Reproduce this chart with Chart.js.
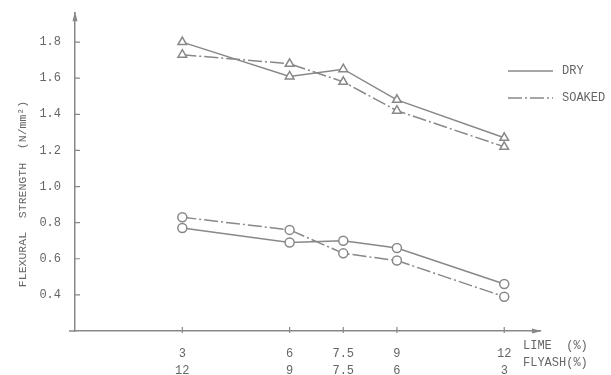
<!DOCTYPE html>
<html>
<head>
<meta charset="utf-8">
<script src="https://cdn.jsdelivr.net/npm/chart.js@4/dist/chart.umd.min.js"></script>
<style>
  html, body { margin: 0; padding: 0; background: #ffffff; }
  canvas { display: block; }
</style>
</head>
<body>
<canvas id="c" width="611" height="375"></canvas>
<script>
// Lime content (%) and the matching flyash content (%)
const limePct = [3, 6, 7.5, 9, 12];
const limeLabels = ['3', '6', '7.5', '9', '12'];
const flyashLabels = ['12', '9', '7.5', '6', '3'];

// Flexural strength (N/mm²), upper group (triangles)
const dryTriangles = [1.80, 1.61, 1.65, 1.48, 1.27];
const soakedTriangles = [1.73, 1.68, 1.58, 1.42, 1.22];

// Flexural strength (N/mm²), lower group (circles)
const dryCircles = [0.77, 0.69, 0.70, 0.66, 0.46];
const soakedCircles = [0.83, 0.76, 0.63, 0.59, 0.39];

// Y-axis tick values
const yTicks = [0.4, 0.6, 0.8, 1.0, 1.2, 1.4, 1.6, 1.8];

const INK = '#666666';
const LINE = '#888888';
const MONO = "'Liberation Mono', 'DejaVu Sans Mono', monospace";
const DASH_DOT = [14, 3, 2, 3];

const toPoints = (ys) => limePct.map((x, i) => ({ x: x, y: ys[i] }));

function series(label, ys, style, dashed) {
  return {
    label: label,
    data: toPoints(ys),
    borderColor: LINE,
    borderWidth: 1.5,
    borderDash: dashed ? DASH_DOT : [],
    pointStyle: style,
    pointRadius: style === 'triangle' ? 5 : 4.5,
    pointBorderWidth: 1.5,
    pointBorderColor: LINE,
    pointBackgroundColor: '#ffffff',
    tension: 0,
    fill: false
  };
}

// Axis arrows, inward tick marks, extra axis captions, y title and legend
const decorations = {
  id: 'decorations',
  afterDraw(chart) {
    const { ctx, chartArea: a, scales: { x, y } } = chart;
    ctx.save();
    ctx.strokeStyle = LINE;
    ctx.fillStyle = LINE;

    // short overhang of the x axis to the left of the y axis
    ctx.lineWidth = 1.5;
    ctx.beginPath();
    ctx.moveTo(a.left - 6, a.bottom);
    ctx.lineTo(a.left, a.bottom);
    ctx.stroke();

    // arrowheads
    ctx.beginPath();
    ctx.moveTo(a.left, a.top - 2);
    ctx.lineTo(a.left - 2.5, a.top + 8);
    ctx.lineTo(a.left + 2.5, a.top + 8);
    ctx.closePath();
    ctx.fill();
    ctx.beginPath();
    ctx.moveTo(a.right + 2, a.bottom);
    ctx.lineTo(a.right - 8, a.bottom - 2.5);
    ctx.lineTo(a.right - 8, a.bottom + 2.5);
    ctx.closePath();
    ctx.fill();

    // tick marks
    ctx.lineWidth = 1.2;
    ctx.beginPath();
    y.ticks.forEach(t => {
      const py = y.getPixelForValue(t.value);
      ctx.moveTo(a.left, py);
      ctx.lineTo(a.left + 5, py);
    });
    x.ticks.forEach(t => {
      const px = x.getPixelForValue(t.value);
      ctx.moveTo(px, a.bottom - 4);
      ctx.lineTo(px, a.bottom + 2);
    });
    ctx.stroke();

    // captions of the two x-label rows
    ctx.fillStyle = INK;
    ctx.font = '12px ' + MONO;
    ctx.textAlign = 'left';
    ctx.textBaseline = 'middle';
    ctx.fillText('LIME  (%)', 523, 346);
    ctx.fillText('FLYASH(%)', 523, 363);

    // y-axis title
    ctx.save();
    ctx.translate(23, 194);
    ctx.rotate(-Math.PI / 2);
    ctx.textAlign = 'center';
    ctx.font = '11.5px ' + MONO;
    ctx.fillText('FLEXURAL  STRENGTH  (N/mm²)', 0, 0);
    ctx.restore();

    // legend
    const entries = [
      { text: 'DRY', dash: [], yy: 71 },
      { text: 'SOAKED', dash: DASH_DOT, yy: 98 }
    ];
    entries.forEach(e => {
      ctx.strokeStyle = LINE;
      ctx.lineWidth = 1.5;
      ctx.setLineDash(e.dash);
      ctx.beginPath();
      ctx.moveTo(508, e.yy);
      ctx.lineTo(553, e.yy);
      ctx.stroke();
      ctx.setLineDash([]);
      ctx.fillStyle = INK;
      ctx.font = '12px ' + MONO;
      ctx.fillText(e.text, 562, e.yy);
    });
    ctx.restore();
  }
};

new Chart(document.getElementById('c'), {
  type: 'line',
  data: {
    datasets: [
      series('DRY', dryTriangles, 'triangle', false),
      series('SOAKED', soakedTriangles, 'triangle', true),
      series('DRY', dryCircles, 'circle', false),
      series('SOAKED', soakedCircles, 'circle', true)
    ]
  },
  options: {
    responsive: false,
    animation: false,
    events: [],
    layout: { padding: { top: 10, right: 71, left: 0, bottom: 0 } },
    plugins: {
      legend: { display: false },
      tooltip: { enabled: false }
    },
    scales: {
      x: {
        type: 'linear',
        min: 0,
        max: 13,
        afterBuildTicks: (s) => { s.ticks = limePct.map(v => ({ value: v })); },
        afterFit: (s) => { s.height = 44; },
        grid: { display: false },
        border: { display: true, color: LINE, width: 1.5 },
        ticks: {
          padding: 6.5,
          color: INK,
          font: { family: MONO, size: 12, lineHeight: 17 / 12 },
          maxRotation: 0,
          autoSkip: false,
          callback: (v, i) => [limeLabels[i], flyashLabels[i]]
        }
      },
      y: {
        type: 'linear',
        min: 0.2,
        max: 1.96,
        afterBuildTicks: (s) => { s.ticks = yTicks.map(v => ({ value: v })); },
        afterFit: (s) => { s.width = 75; },
        grid: { display: false },
        border: { display: true, color: LINE, width: 1.5 },
        ticks: {
          padding: 6,
          color: INK,
          font: { family: MONO, size: 12 },
          autoSkip: false,
          callback: (v) => Number(v).toFixed(1)
        }
      }
    }
  },
  plugins: [decorations]
});
</script>
</body>
</html>
